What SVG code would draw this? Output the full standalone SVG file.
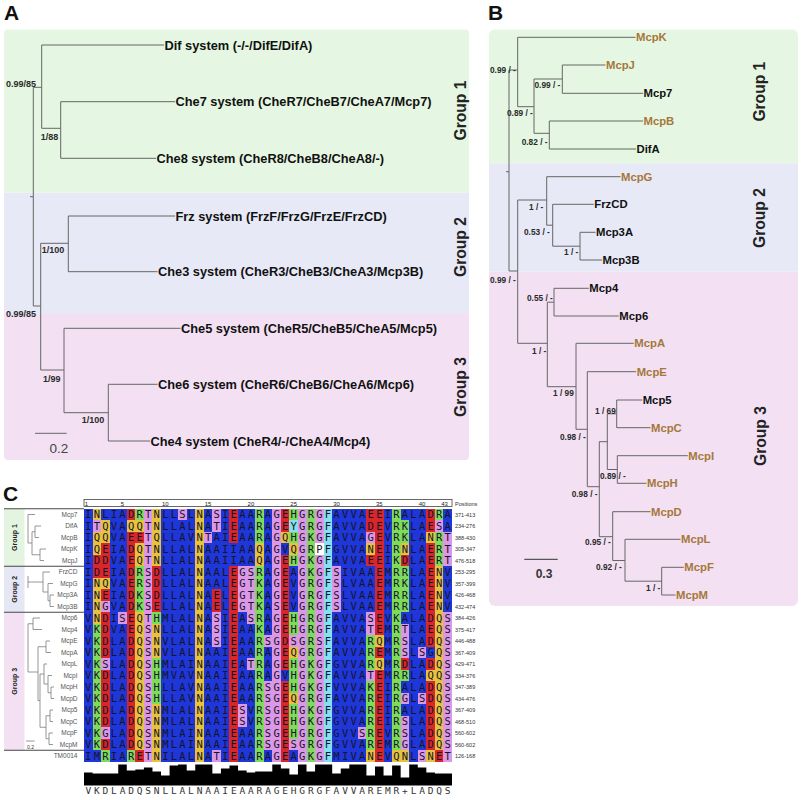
<svg xmlns="http://www.w3.org/2000/svg" width="801" height="800" viewBox="0 0 801 800">
<style>
text{font-family:"Liberation Sans",Arial,Helvetica,sans-serif}
.lbA{font-weight:bold;font-size:12.8px;fill:#111}
.nd{font-weight:bold;font-size:9px;fill:#2a2a2a}
.ndb{font-weight:bold;font-size:8.3px;fill:#2a2a2a}
.lf{font-weight:bold;font-size:11.3px;fill:#111}
.br{fill:#a5783a}
.grp{font-weight:bold;font-size:15.6px;fill:#222;text-anchor:middle}
.grc{font-weight:bold;font-size:7px;fill:#222;text-anchor:middle}
.pl{font-weight:bold;font-size:21px;fill:#111}
.tr{stroke:#666;stroke-width:1;fill:none}
.ctr{stroke:#7c7c7c;stroke-width:0.8;fill:none}
.sep{stroke:#333;stroke-width:0.9;fill:none}
.aa{font-family:"DejaVu Sans Mono",monospace;font-size:10.5px;letter-spacing:2.238px;fill:#15152a}
.cons{font-family:"DejaVu Sans Mono",monospace;font-size:9.5px;letter-spacing:2.839px;fill:#333}
.nm{font-size:6.5px;fill:#555;text-anchor:end}
.rg{font-size:5.5px;fill:#333}
.rl{font-size:6px;fill:#222;text-anchor:middle}
</style>
<defs>
<clipPath id="cA"><rect x="4" y="29.3" width="465" height="430.7" rx="4"/></clipPath>
<clipPath id="cB"><rect x="489" y="29.3" width="309" height="576.7" rx="6"/></clipPath>
</defs>
<rect width="801" height="800" fill="#fff"/>

<!-- Panel A -->
<text class="pl" x="4" y="20">A</text>
<g clip-path="url(#cA)">
<rect x="4" y="29.3" width="465" height="163.4" fill="#e5f7e2"/>
<rect x="4" y="192.7" width="465" height="121.3" fill="#e7e9f6"/>
<rect x="4" y="314" width="465" height="146" fill="#f3e1f3"/>
</g>
<g id="A-connectors" class="tr">
<path d="M164 45H41.7V128.3"/>
<path d="M41.7 128.3H60.7"/>
<path d="M175 101.7H60.7V158.3H156"/>
<path d="M41.7 87.3H33.3V306H40.7"/>
<path d="M30 196.7H33.3"/>
<path d="M68.3 243.3H40.7V370H64"/>
<path d="M175 216H68.3V271.7H157.5"/>
<path d="M180.5 328.3H64V412.7H108.3"/>
<path d="M157.5 384.3H108.3V441H150"/>
<path d="M35 433.3H66.7"/>
</g>
<g id="A-dif"><text class="lbA" x="164.5" y="49.6">Dif system (-/-/DifE/DifA)</text></g>
<g id="A-che7"><text class="lbA" x="175.5" y="106.3">Che7 system (CheR7/CheB7/CheA7/Mcp7)</text></g>
<g id="A-che8"><text class="lbA" x="156.5" y="162.9">Che8 system (CheR8/CheB8/CheA8/-)</text></g>
<g id="A-frz"><text class="lbA" x="175.5" y="220.6">Frz system (FrzF/FrzG/FrzE/FrzCD)</text></g>
<g id="A-che3"><text class="lbA" x="158" y="276.3">Che3 system (CheR3/CheB3/CheA3/Mcp3B)</text></g>
<g id="A-che5"><text class="lbA" x="181" y="332.9">Che5 system (CheR5/CheB5/CheA5/Mcp5)</text></g>
<g id="A-che6"><text class="lbA" x="158" y="388.9">Che6 system (CheR6/CheB6/CheA6/Mcp6)</text></g>
<g id="A-che4"><text class="lbA" x="150.5" y="445.6">Che4 system (CheR4/-/CheA4/Mcp4)</text></g>
<g id="A-support">
<text class="nd" x="6" y="86.5">0.99/85</text>
<text class="nd" x="40.7" y="139.9">1/88</text>
<text class="nd" x="41.7" y="252.5">1/100</text>
<text class="nd" x="6" y="316.5">0.99/85</text>
<text class="nd" x="43" y="381.5">1/99</text>
<text class="nd" x="81.7" y="423.2">1/100</text>
<text x="59" y="453" font-size="13.5" fill="#444" text-anchor="middle">0.2</text>
</g>
<g id="A-groups">
<text class="grp" transform="translate(466 110.5) rotate(-90)">Group 1</text>
<text class="grp" transform="translate(466 247) rotate(-90)">Group 2</text>
<text class="grp" transform="translate(466 387) rotate(-90)">Group 3</text>
</g>

<!-- Panel B -->
<text class="pl" x="488" y="20">B</text>
<g clip-path="url(#cB)">
<rect x="489" y="29.3" width="309" height="134" fill="#e5f7e2"/>
<rect x="489" y="163.3" width="309" height="108.4" fill="#e7e9f6"/>
<rect x="489" y="271.7" width="309" height="334.3" fill="#f3e1f3"/>
</g>
<g id="B-connectors" class="tr">
<path d="M517.7 70H509V271H517.7"/>
<path d="M506 171.7H509"/>
<path d="M635.5 37.3H517.7V106.7H534"/>
<path d="M562.3 79H534V133.3H549.3"/>
<path d="M605.5 65H562.3V93.3H643"/>
<path d="M643 121H549.3V149H636"/>
<path d="M546.7 200H517.7V343.3H547.3"/>
<path d="M620.5 176.7H546.7V225.2H552.7"/>
<path d="M593.8 204.3H552.7V246.2H580"/>
<path d="M595.5 232.3H580V260H602"/>
<path d="M554 302.2H547.3V386.7H576"/>
<path d="M588.8 288.3H554V316H618.8"/>
<path d="M633.8 343.3H576V429.3H587.3"/>
<path d="M636.2 371.7H587.3V486.7H599.3"/>
<path d="M607.3 441.7H599.3V536.7H612.7"/>
<path d="M616.7 413.8H607.3V469.5H617.3"/>
<path d="M642.2 400H616.7V427.7H650.5"/>
<path d="M687.8 455.7H617.3V483.3H646.5"/>
<path d="M650.5 511.7H612.7V560.5H625"/>
<path d="M680.5 539.3H625V581.2H661.7"/>
<path d="M683.8 567.3H661.7V595H675.5"/>
<path d="M524.3 559.3H557.7" stroke="#555" stroke-width="1.2"/>
</g>
<g id="B-McpK"><text class="lf br" x="636" y="41.3">McpK</text></g>
<g id="B-McpJ"><text class="lf br" x="606" y="69">McpJ</text></g>
<g id="B-Mcp7"><text class="lf" x="643.5" y="97.3">Mcp7</text></g>
<g id="B-McpB"><text class="lf br" x="643.5" y="125">McpB</text></g>
<g id="B-DifA"><text class="lf" x="636.5" y="153">DifA</text></g>
<g id="B-McpG"><text class="lf br" x="621" y="180.7">McpG</text></g>
<g id="B-FrzCD"><text class="lf" x="594.3" y="208.3">FrzCD</text></g>
<g id="B-Mcp3A"><text class="lf" x="596" y="236.3">Mcp3A</text></g>
<g id="B-Mcp3B"><text class="lf" x="602.5" y="264">Mcp3B</text></g>
<g id="B-Mcp4"><text class="lf" x="589.3" y="292.3">Mcp4</text></g>
<g id="B-Mcp6"><text class="lf" x="619.3" y="320">Mcp6</text></g>
<g id="B-McpA"><text class="lf br" x="634.3" y="347.3">McpA</text></g>
<g id="B-McpE"><text class="lf br" x="636.7" y="375.7">McpE</text></g>
<g id="B-Mcp5"><text class="lf" x="642.7" y="404">Mcp5</text></g>
<g id="B-McpC"><text class="lf br" x="651" y="431.7">McpC</text></g>
<g id="B-McpI"><text class="lf br" x="688.3" y="459.7">McpI</text></g>
<g id="B-McpH"><text class="lf br" x="647" y="487.3">McpH</text></g>
<g id="B-McpD"><text class="lf br" x="651" y="515.7">McpD</text></g>
<g id="B-McpL"><text class="lf br" x="681" y="543.3">McpL</text></g>
<g id="B-McpF"><text class="lf br" x="684.3" y="571.3">McpF</text></g>
<g id="B-McpM"><text class="lf br" x="676" y="599">McpM</text></g>
<g id="B-support">
<text class="ndb" x="490" y="73">0.99 / -</text>
<text class="ndb" x="534.5" y="88">0.99 / -</text>
<text class="ndb" x="507" y="115.7">0.89 / -</text>
<text class="ndb" x="521.7" y="144.7">0.82 / -</text>
<text class="ndb" x="529" y="210.3">1 / -</text>
<text class="ndb" x="524" y="234.7">0.53 / -</text>
<text class="ndb" x="564" y="255.3">1 / -</text>
<text class="ndb" x="490" y="283">0.99 / -</text>
<text class="ndb" x="527" y="301.3">0.55 / -</text>
<text class="ndb" x="532" y="354">1 / -</text>
<text class="ndb" x="553" y="396.3">1 / 99</text>
<text class="ndb" x="560" y="439.7">0.98 / -</text>
<text class="ndb" x="595" y="413.7">1 / 69</text>
<text class="ndb" x="600" y="478.7">0.89 / -</text>
<text class="ndb" x="571.7" y="497">0.98 / -</text>
<text class="ndb" x="585" y="545.3">0.95 / -</text>
<text class="ndb" x="596" y="570.3">0.92 / -</text>
<text class="ndb" x="646" y="591.3">1 / -</text>
<text x="544" y="578" font-size="12" font-weight="bold" fill="#333" text-anchor="middle">0.3</text>
</g>
<g id="B-groups">
<text class="grp" transform="translate(765 91.7) rotate(-90)">Group 1</text>
<text class="grp" transform="translate(765 218) rotate(-90)">Group 2</text>
<text class="grp" transform="translate(766 436) rotate(-90)">Group 3</text>
</g>

<!-- Panel C -->
<text class="pl" x="3" y="501" font-size="20">C</text>
<g id="C-groupboxes">
<rect x="4" y="508.75" width="20.5" height="57.5" fill="#e3f5e0"/>
<rect x="4" y="566.25" width="20.5" height="46" fill="#e5e7f4"/>
<rect x="4" y="612.25" width="20.5" height="138" fill="#f3e1f3"/>
<path class="sep" d="M4 508.75H84M4 566.25H84M4 612.25H84M4 750.25H84"/>
<text class="grc" transform="translate(17 537.5) rotate(-90)">Group 1</text>
<text class="grc" transform="translate(17 589.25) rotate(-90)">Group 2</text>
<text class="grc" transform="translate(17 681.25) rotate(-90)">Group 3</text>
</g>
<g id="C-trees" class="ctr">
<path d="M35 514.5H28V543H32"/>
<path d="M35 531.75H32V554.75H40"/>
<path d="M41 526H35V537.5H39"/>
<path d="M46 549H40V560.5H44"/>
<path d="M28 576V588M28 582H43"/>
<path d="M50 572H43V592H48"/>
<path d="M53 583.5H48V600.75H50"/>
<path d="M54 595H50V606.5H54"/>
<path d="M40 618H33V629.5H42"/>
<path d="M33 623.75H28V672H38"/>
<path d="M50 641H46V652.5H51"/>
<path d="M46 646.75H38V700.6H40"/>
<path d="M44 674H40V727.25H46"/>
<path d="M47 664H44V684H48"/>
<path d="M52 675.5H48V692.75H51"/>
<path d="M54 687H51V698.5H54"/>
<path d="M50 715.75H46V738.75H49"/>
<path d="M53 710H50V721.5H53"/>
<path d="M53 733H49V744.5H53"/>
<path d="M26 741H34.7"/>
</g>
<text x="30.5" y="748.5" font-size="5" fill="#333" text-anchor="middle">0.2</text>

<g id="C-ruler">
<rect x="84" y="499.5" width="368" height="7" fill="#fff" stroke="#444" stroke-width="0.8"/>
<text class="rl" x="86.5" y="505.6">1</text>
<text class="rl" x="122.5" y="505.6">5</text>
<text class="rl" x="165.3" y="505.6">10</text>
<text class="rl" x="208.1" y="505.6">15</text>
<text class="rl" x="250.9" y="505.6">20</text>
<text class="rl" x="293.7" y="505.6">25</text>
<text class="rl" x="336.5" y="505.6">30</text>
<text class="rl" x="379.3" y="505.6">35</text>
<text class="rl" x="422.1" y="505.6">40</text>
<text class="rl" x="444.5" y="505.6">43</text>
<text class="rg" x="455" y="505.5">Positions</text>
</g>

<g id="C-alignment-colours" transform="translate(84 508.75) scale(8.5581 11.5)" shape-rendering="crispEdges">
<rect width="43" height="22" fill="#1f36d8"/>
<path fill="#d8262a" d="M1 4h1v2h-1zM2 3h1v3h-1zM2 7h1v1h-1zM2 9h1v4h-1zM2 14h1v5h-1zM2 20h1v1h-1zM5 0h1v1h-1zM5 2h1v19h-1zM6 2h1v1h-1zM6 21h1v1h-1zM8 5h1v4h-1zM15 7h1v2h-1zM17 0h1v3h-1zM17 5h1v17h-1zM23 0h1v2h-1zM23 4h1v10h-1zM23 15h1v7h-1zM33 0h1v2h-1zM33 4h1v1h-1zM34 0h1v11h-1zM34 12h1v1h-1zM34 14h1v8h-1zM37 4h1v1h-1zM37 13h1v1h-1zM40 0h1v2h-1zM40 3h1v9h-1zM40 13h1v1h-1zM40 15h1v6h-1zM41 21h1v1h-1z"/>
<path fill="#e6c23e" d="M1 0h1v1h-1zM1 2h1v2h-1zM1 6h1v4h-1zM2 1h1v2h-1zM2 6h1v1h-1zM5 1h1v1h-1zM6 1h1v1h-1zM6 3h1v2h-1zM6 9h1v12h-1zM8 0h1v5h-1zM8 10h1v3h-1zM8 17h1v5h-1zM13 0h1v22h-1zM20 3h1v2h-1zM23 2h1v1h-1zM24 3h1v1h-1zM24 12h1v1h-1zM24 16h1v1h-1zM33 3h1v1h-1zM33 21h1v1h-1zM34 11h1v1h-1zM34 13h1v1h-1zM36 21h1v1h-1zM37 3h1v1h-1zM37 21h1v1h-1zM40 2h1v1h-1zM40 14h1v1h-1zM40 21h1v1h-1zM41 5h1v16h-1z"/>
<path fill="#7ddc5a" d="M1 10h1v11h-1zM2 21h1v1h-1zM5 21h1v1h-1zM6 0h1v1h-1zM6 5h1v4h-1zM8 9h1v1h-1zM8 13h1v4h-1zM20 0h1v3h-1zM20 5h1v17h-1zM24 0h1v1h-1zM24 2h1v1h-1zM24 4h1v1h-1zM24 9h1v2h-1zM24 13h1v3h-1zM24 17h1v3h-1zM26 0h1v22h-1zM33 11h1v3h-1zM33 15h1v6h-1zM36 0h1v21h-1zM37 1h1v2h-1zM37 5h1v4h-1zM37 14h1v1h-1zM41 0h1v1h-1zM41 2h1v3h-1z"/>
<path fill="#dc98e6" d="M1 1h1v1h-1zM2 8h1v1h-1zM2 13h1v1h-1zM2 19h1v1h-1zM4 9h1v1h-1zM7 0h1v22h-1zM11 0h1v1h-1zM14 2h1v1h-1zM15 0h1v2h-1zM15 9h1v3h-1zM15 21h1v1h-1zM18 5h1v4h-1zM18 17h1v2h-1zM19 5h1v5h-1zM19 13h1v1h-1zM21 11h1v1h-1zM21 15h1v6h-1zM22 0h1v22h-1zM24 11h1v1h-1zM24 20h1v1h-1zM25 0h1v22h-1zM27 0h1v3h-1zM27 4h1v18h-1zM29 5h1v4h-1zM32 19h1v1h-1zM33 2h1v1h-1zM33 9h1v2h-1zM33 14h1v1h-1zM37 10h1v3h-1zM37 16h1v1h-1zM37 18h1v3h-1zM39 12h1v1h-1zM39 16h1v1h-1zM39 21h1v1h-1zM41 1h1v1h-1zM42 2h1v3h-1zM42 9h1v13h-1z"/>
<path fill="#86e0f0" d="M28 0h1v22h-1zM24 1h1v1h-1z"/>
<path fill="#ffffff" d="M27 3h1v1h-1z"/>
</g>

<g id="C-sequences" transform="translate(0 0.2)">
<text class="aa" x="85.12" y="518.3">INLIADRTNLLSLNASIEAARAGEHGRGFAVVAEEIRALADRA</text>
<text class="aa" x="85.12" y="529.8">ITQVAQQTNLLALNATIEAARAGEYGRGFAVVADEVRKLAESA</text>
<text class="aa" x="85.12" y="541.3">IQQVAEETQLLAVNTAIEAARAGQHGKGFAVVAGEVRKLANRT</text>
<text class="aa" x="85.12" y="552.8">IQEIADQTNLLALNAAIIAAQAGVQGRPFGVVANEIRNLAERT</text>
<text class="aa" x="85.12" y="564.3">IDDVAEQTNLLALNAAIIAAQAGEHGKGFAVVAEEIKDLAERT</text>
<text class="aa" x="85.12" y="575.8">IDEIADRSDLLALNAALEGSRAGEAGKGFSIVAAEMRRLAENV</text>
<text class="aa" x="85.12" y="587.3">INQVAERSDLLALNAALEGTKAGEVGRGFSLVAAEMRKLAENV</text>
<text class="aa" x="85.12" y="598.8">INEIADKSDLLALNAELEGTKAGEVGRGFSLVAAEMRRLAENV</text>
<text class="aa" x="85.12" y="610.3">INGVADKSELLALNAELEGTKASEVGRGFSLVAAEMRRLAENV</text>
<text class="aa" x="85.12" y="621.8">VNDISEQTHMLALNASIEASRAGEHGRGFAVVASEVKALADQS</text>
<text class="aa" x="85.12" y="633.3">VKDVAEQSNLLALNASIEAAKAGEHGRGFAVVATEMRTLAEQS</text>
<text class="aa" x="85.12" y="644.8">VKDLADQSNVLALNASIEAARSGDSGRSFAVVARQMRSLADQS</text>
<text class="aa" x="85.12" y="656.3">VKDLADQSNVLALNAAIEAARAGEQGRGFAVVAREMRSLSGQS</text>
<text class="aa" x="85.12" y="667.8">VKSLADQSHMLAINAAIEATRAGEHGKGFGVVARQMRDLADQS</text>
<text class="aa" x="85.12" y="679.3">VKDLADQSHMVAVNAAIEAARAGVHGKGFAVVATEMRRLAQQS</text>
<text class="aa" x="85.12" y="690.8">VKDLADQSHLLAVNAAIEAARSGEHGKGFVVVAKEIRALADQS</text>
<text class="aa" x="85.12" y="702.3">VKDLADQSHLLAVNAAIEAARSGEQGRGFAVVAREIRGLSDQS</text>
<text class="aa" x="85.12" y="713.8">VKDLADQSNMLALNAAIESVRSGEHGKGFGVVAREIRALADQS</text>
<text class="aa" x="85.12" y="725.3">VKDLADQSNMLALNAAIESVRSGEHGKGFGVVAREIRSLADQS</text>
<text class="aa" x="85.12" y="736.8">VKGLADQSNMLAINAAIEAARSGEHGRGFGVVSREVRSLADQS</text>
<text class="aa" x="85.12" y="748.3">VKDLADQSNMLAINAAIEAARSGESGRGFGVVAREMRGLADQS</text>
<text class="aa" x="85.12" y="759.8">IMRIARETNILALNATIEAARAGEAGKGFMIVANEVQNLSNET</text>
</g>

<g id="C-names">
<text class="nm" x="77.5" y="516.8">Mcp7</text>
<text class="nm" x="77.5" y="528.3">DifA</text>
<text class="nm" x="77.5" y="539.8">McpB</text>
<text class="nm" x="77.5" y="551.3">McpK</text>
<text class="nm" x="77.5" y="562.8">McpJ</text>
<text class="nm" x="77.5" y="574.3">FrzCD</text>
<text class="nm" x="77.5" y="585.8">McpG</text>
<text class="nm" x="77.5" y="597.3">Mcp3A</text>
<text class="nm" x="77.5" y="608.8">Mcp3B</text>
<text class="nm" x="77.5" y="620.3">Mcp6</text>
<text class="nm" x="77.5" y="631.8">Mcp4</text>
<text class="nm" x="77.5" y="643.3">McpE</text>
<text class="nm" x="77.5" y="654.8">McpA</text>
<text class="nm" x="77.5" y="666.3">McpL</text>
<text class="nm" x="77.5" y="677.8">McpI</text>
<text class="nm" x="77.5" y="689.3">McpH</text>
<text class="nm" x="77.5" y="700.8">McpD</text>
<text class="nm" x="77.5" y="712.3">Mcp5</text>
<text class="nm" x="77.5" y="723.8">McpC</text>
<text class="nm" x="77.5" y="735.3">McpF</text>
<text class="nm" x="77.5" y="746.8">McpM</text>
<text class="nm" x="77.5" y="758.3">TM0014</text>
</g>

<g id="C-ranges">
<text class="rg" x="455" y="516.5">371-413</text>
<text class="rg" x="455" y="528">234-276</text>
<text class="rg" x="455" y="539.5">388-430</text>
<text class="rg" x="455" y="551">305-347</text>
<text class="rg" x="455" y="562.5">476-518</text>
<text class="rg" x="455" y="574">253-295</text>
<text class="rg" x="455" y="585.5">357-399</text>
<text class="rg" x="455" y="597">426-468</text>
<text class="rg" x="455" y="608.5">432-474</text>
<text class="rg" x="455" y="620">384-426</text>
<text class="rg" x="455" y="631.5">375-417</text>
<text class="rg" x="455" y="643">446-488</text>
<text class="rg" x="455" y="654.5">367-409</text>
<text class="rg" x="455" y="666">429-471</text>
<text class="rg" x="455" y="677.5">334-376</text>
<text class="rg" x="455" y="689">347-389</text>
<text class="rg" x="455" y="700.5">434-476</text>
<text class="rg" x="455" y="712">367-409</text>
<text class="rg" x="455" y="723.5">468-510</text>
<text class="rg" x="455" y="735">560-602</text>
<text class="rg" x="455" y="746.5">560-602</text>
<text class="rg" x="455" y="758">126-168</text>
</g>

<g id="C-conservation">
<path transform="translate(84 785.5) scale(8.5581 1)" fill="#000" d="M0 0V-13H1V-12H2V-12H3V-12H4V-21H5V-15H6V-16H7V-18H8V-14H9V-10H10V-20H11V-21H12V-15H13V-21H14V-21H15V-12H16V-17H17V-20H18V-15H19V-13H20V-14H21V-14H22V-21H23V-17H24V-11H25V-21H26V-14H27V-21H28V-21H29V-12H30V-17H31V-21H32V-21H33V-10H34V-19H35V-10H36V-20H37V-8H38V-21H39V-18H40V-13H41V-12H42V-12H43V0Z"/>
<text class="cons" x="85.42" y="794">VKDLADQSNLLALNAAIEAARAGEHGRGFAVVAREMR+LADQS</text>
</g>
</svg>
